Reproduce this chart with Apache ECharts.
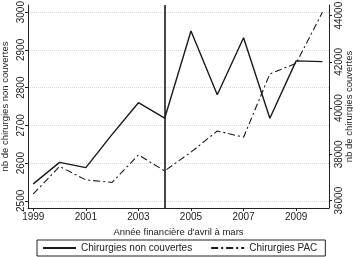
<!DOCTYPE html>
<html>
<head>
<meta charset="utf-8">
<script src="https://cdn.jsdelivr.net/npm/echarts@6/dist/echarts.min.js"></script>
<style>
  html, body { margin: 0; padding: 0; background: #fff; }
  #main { width: 353px; height: 257px; }
</style>
</head>
<body>
<div id="main"></div>
<script>
// données
var annees = [1999, 2000, 2001, 2002, 2003, 2004, 2005, 2006, 2007, 2008, 2009, 2010];
var nonCouvertes = [2545, 2602, 2588, 2676, 2760, 2719, 2950, 2781, 2932, 2719, 2871, 2869];
var chirurgiesPAC = [36290, 37480, 36900, 36790, 37980, 37290, 38100, 39015, 38745, 41480, 41940, 44150];
var ticksX = [1999, 2001, 2003, 2005, 2007, 2009];
var ticksGauche = [2500, 2600, 2700, 2800, 2900, 3000];
var ticksDroite = [36000, 38000, 40000, 42000, 44000];
var anneeReforme = 2004;

var police = "Liberation Sans";
var chart = echarts.init(document.getElementById("main"));

function paires(vals) {
  var out = [];
  for (var i = 0; i < annees.length; i++) {
    out.push([annees[i], vals[i]]);
  }
  return out;
}
// pas de séparateur de milliers
function brut(v) {
  return String(v);
}

var option = {
  animation: false,
  textStyle: { fontFamily: police, color: "#222" },
  grid: { left: 28, right: 24, top: 5, bottom: 49, outerBoundsMode: "none", containLabel: false },
  xAxis: {
    type: "value",
    min: 1998.8,
    max: 2010.25,
    name: "Année financière d'avril à mars",
    nameLocation: "middle",
    nameGap: 19,
    nameMoveOverlap: false,
    nameTextStyle: { fontSize: 9.5, color: "#222" },
    axisLine: { show: true, lineStyle: { color: "#222", width: 1 } },
    axisTick: { show: true, length: 3, customValues: ticksX, lineStyle: { color: "#222" } },
    axisLabel: { customValues: ticksX, formatter: brut, fontSize: 10, color: "#222", margin: 4 },
    splitLine: { show: false }
  },
  yAxis: [
    {
      type: "value",
      position: "left",
      min: 2481,
      max: 3019,
      name: "nb de chirurgies non couvertes",
      nameLocation: "middle",
      nameGap: 18,
      nameMoveOverlap: false,
      nameTextStyle: { fontSize: 9.5, color: "#222" },
      axisLine: { show: true, lineStyle: { color: "#222", width: 1 } },
      axisTick: { show: true, length: 3, customValues: ticksGauche, lineStyle: { color: "#222" } },
      axisLabel: { customValues: ticksGauche, formatter: brut, rotate: 90, fontSize: 10, color: "#222", margin: 2 },
      splitLine: { show: true, lineStyle: { color: "#d8d8d8", type: "dotted", width: 1 } }
    },
    {
      type: "value",
      position: "right",
      min: 35684,
      max: 44463,
      name: "nb de chirurgies couvertes",
      nameLocation: "middle",
      nameRotate: 90,
      nameGap: 15,
      nameMoveOverlap: false,
      nameTextStyle: { fontSize: 9.5, color: "#222" },
      axisLine: { show: true, lineStyle: { color: "#222", width: 1 } },
      axisTick: { show: true, length: 3, customValues: ticksDroite, lineStyle: { color: "#222" } },
      axisLabel: { customValues: ticksDroite, formatter: brut, rotate: 90, fontSize: 10, color: "#222", margin: 5 },
      splitLine: { show: false }
    }
  ],
  legend: {
    left: 37,
    bottom: 1,
    orient: "horizontal",
    itemWidth: 33,
    itemHeight: 10,
    itemGap: 18,
    padding: [3, 8, 3, 5],
    borderColor: "#222",
    borderWidth: 1,
    itemStyle: { color: "rgba(0,0,0,0)", borderWidth: 0 },
    textStyle: { fontSize: 10, color: "#222", fontFamily: police },
    data: ["Chirurgies non couvertes", "Chirurgies PAC"]
  },
  series: [
    {
      name: "Chirurgies non couvertes",
      type: "line",
      yAxisIndex: 0,
      data: paires(nonCouvertes),
      symbol: "none",
      lineStyle: { color: "#1a1a1a", width: 1.4 },
      itemStyle: { color: "#1a1a1a" },
      markLine: {
        silent: true,
        symbol: "none",
        label: { show: false },
        lineStyle: { color: "#1a1a1a", width: 1.6, type: "solid" },
        data: [{ xAxis: anneeReforme }]
      }
    },
    {
      name: "Chirurgies PAC",
      type: "line",
      yAxisIndex: 1,
      data: paires(chirurgiesPAC),
      symbol: "none",
      lineStyle: { color: "#1a1a1a", width: 1.1, type: [7, 3, 2, 3] },
      itemStyle: { color: "#1a1a1a" }
    }
  ]
};

chart.setOption(option);
</script>
</body>
</html>
